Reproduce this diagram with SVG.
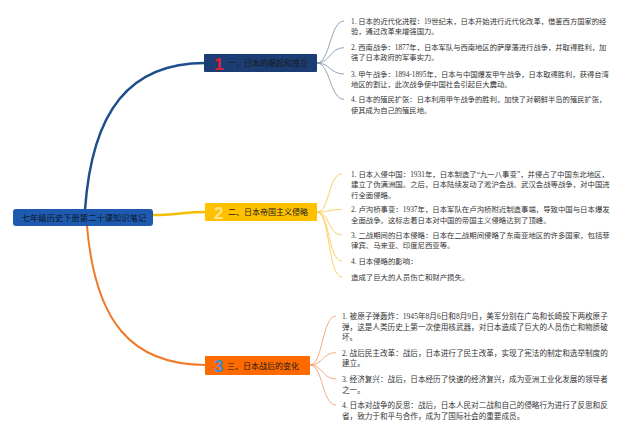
<svg xmlns="http://www.w3.org/2000/svg" width="640" height="435" viewBox="0 0 640 435">
<style>
.leaf{font-family:"Liberation Serif","Noto Sans CJK SC",serif;fill:#333;}
.b1t{font-size:7.3px}
.b2t{font-size:7.4px}
.b3t{font-size:7.6px}
.nodet{font-family:"Liberation Sans","Noto Sans CJK SC",sans-serif;font-size:8px;fill:#1a1a1a}
.num{font-family:"Liberation Sans","Noto Sans CJK SC",sans-serif;font-size:17px;font-weight:bold}
.c1{fill:none;stroke:#8896AE;stroke-width:0.9}
.c2{fill:none;stroke:#F7CC55;stroke-width:0.9}
.c3{fill:none;stroke:#F5A070;stroke-width:0.9}
</style>
<rect width="640" height="435" fill="#ffffff"/>
<g id="connectors">
<path d="M85,210 C 92,110 130,63 205,63" fill="none" stroke="#1F4E8C" stroke-width="2.5"/>
<path d="M153,215 C 175,215 185,212 206,212" fill="none" stroke="#F5BE00" stroke-width="2.5"/>
<path d="M87,226 C 95,320 130,365 206,365" fill="none" stroke="#F07A2A" stroke-width="2"/>
<path class="c1" d="M317,63 C 330,63 330,21 344,21"/>
<path class="c1" d="M317,63 C 330,63 330,47.7 344,47.7"/>
<path class="c1" d="M317,63 C 330,63 330,74 344,74"/>
<path class="c1" d="M317,63 C 330,63 330,99.3 344,99.3"/>
<path class="c2" d="M317,212 C 330,212 328,174 342,174"/>
<path class="c2" d="M317,212 C 330,212 328,209.5 342,209.5"/>
<path class="c2" d="M317,212 C 330,212 328,235 342,235"/>
<path class="c2" d="M317,212 C 330,212 328,261 342,261"/>
<path class="c2" d="M317,212 C 330,212 328,277 342,277"/>
<path class="c3" d="M310,365 C 323,365 322,316 336,316"/>
<path class="c3" d="M310,365 C 323,365 322,352.7 336,352.7"/>
<path class="c3" d="M310,365 C 323,365 322,379 336,379"/>
<path class="c3" d="M310,365 C 323,365 322,405 336,405"/>
</g>
<g id="root">
<rect x="13" y="209" width="140" height="17" rx="3" fill="#1E5BB0"/>
<text x="84" y="220.5" text-anchor="middle" font-family="Liberation Sans,Noto Sans CJK SC,sans-serif" font-size="8.3" fill="#0d1624">七年级历史下册第二十课知识笔记</text>
</g>
<g id="branch1">
<rect x="204" y="54" width="113" height="18" rx="1" fill="#1C3D73"/>
<text class="num" x="214" y="69.5" fill="#E02030">1</text>
<text class="nodet" x="228" y="66">一、日本的崛起和独立</text>
</g>
<g id="branch2">
<rect x="205" y="203" width="112" height="18" rx="1" fill="#FFC000"/>
<text class="num" x="214" y="218.5" fill="#FFE58A">2</text>
<text class="nodet" x="228" y="215">二、日本帝国主义侵略</text>
</g>
<g id="branch3">
<rect x="205" y="356" width="105" height="19" rx="1" fill="#FF6A00"/>
<text class="num" x="214" y="372" fill="#3D8FD6">3</text>
<text class="nodet" x="227" y="368.5">三、日本战后的变化</text>
</g>
<g id="b1-items" class="leaf b1t">
<text x="351" y="23.7">1. 日本的近代化进程：19世纪末，日本开始进行近代化改革，借鉴西方国家的经</text>
<text x="351" y="34.4">验，通过改革来增强国力。</text>
<text x="351" y="50.4">2. 西南战争：1877年，日本军队与西南地区的萨摩藩进行战争，并取得胜利，加</text>
<text x="351" y="60.4">强了日本政府的军事实力。</text>
<text x="351" y="76.7">3. 甲午战争：1894-1895年，日本与中国爆发甲午战争，日本取得胜利，获得台湾</text>
<text x="351" y="86.7">地区的割让，此次战争使中国社会引起巨大震动。</text>
<text x="351" y="102">4. 日本的殖民扩张：日本利用甲午战争的胜利，加快了对朝鲜半岛的殖民扩张，</text>
<text x="351" y="112.7">使其成为自己的殖民地。</text>
</g>
<g id="b2-items" class="leaf b2t">
<text x="351" y="176.7">1. 日本入侵中国：1931年，日本制造了“九一八事变”，并侵占了中国东北地区，</text>
<text x="351" y="187.4">建立了伪满洲国。之后，日本陆续发动了淞沪会战、武汉会战等战争，对中国进</text>
<text x="351" y="198.1">行全面侵略。</text>
<text x="351" y="212.2">2. 卢沟桥事变：1937年，日本军队在卢沟桥附近制造事端，导致中国与日本爆发</text>
<text x="351" y="222.9">全面战争。这标志着日本对中国的帝国主义侵略达到了顶峰。</text>
<text x="351" y="237.7">3. 二战期间的日本侵略：日本在二战期间侵略了东南亚地区的许多国家，包括菲</text>
<text x="351" y="248.4">律宾、马来亚、印度尼西亚等。</text>
<text x="351" y="263.7">4. 日本侵略的影响：</text>
<text x="351" y="279.7">造成了巨大的人员伤亡和财产损失。</text>
</g>
<g id="b3-items" class="leaf b3t">
<text x="342" y="318.9">1. 被原子弹轰炸：1945年8月6日和8月9日，美军分别在广岛和长崎投下两枚原子</text>
<text x="342" y="329.6">弹，这是人类历史上第一次使用核武器，对日本造成了巨大的人员伤亡和物质破</text>
<text x="342" y="340.3">坏。</text>
<text x="342" y="355.6">2. 战后民主改革：战后，日本进行了民主改革，实现了宪法的制定和选举制度的</text>
<text x="342" y="366.3">建立。</text>
<text x="342" y="381.9">3. 经济复兴：战后，日本经历了快速的经济复兴，成为亚洲工业化发展的领导者</text>
<text x="342" y="392.6">之一。</text>
<text x="342" y="407.9">4. 日本对战争的反思：战后，日本人民对二战和自己的侵略行为进行了反思和反</text>
<text x="342" y="418.6">省，致力于和平与合作，成为了国际社会的重要成员。</text>
</g>
</svg>
